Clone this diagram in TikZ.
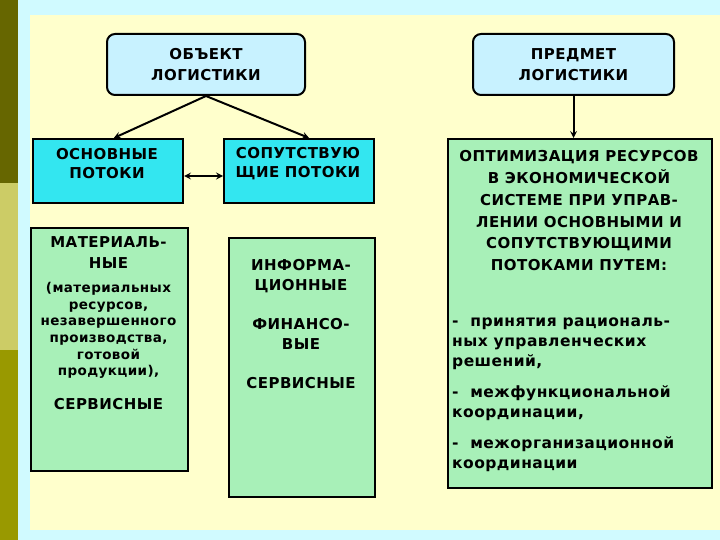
\documentclass[tikz,border=0pt]{standalone}
\usepackage{fontspec}
\setmainfont{DejaVu Sans}[LetterSpace=3]
\usetikzlibrary{positioning}

\definecolor{paleCyan}{RGB}{208,250,255}
\definecolor{panelYellow}{RGB}{255,255,204}
\definecolor{headBlue}{RGB}{200,242,255}
\definecolor{flowCyan}{RGB}{51,230,240}
\definecolor{noteGreen}{RGB}{168,240,184}
\definecolor{darkOlive}{RGB}{102,102,0}
\definecolor{midOlive}{RGB}{204,204,102}
\definecolor{lowOlive}{RGB}{153,153,0}

\begin{document}
\begin{tikzpicture}[x=1pt, y=-1pt,
    headbox/.style ={draw, line width=2pt, rounded corners=8pt, fill=headBlue, anchor=north west,
                     minimum height=61pt, align=center, font=\bfseries\fontsize{15}{20.5}\selectfont},
    flowbox/.style ={draw, line width=2pt, fill=flowCyan, anchor=north west, minimum width=150pt, minimum height=64pt},
    notebox/.style ={draw, line width=2pt, fill=noteGreen, anchor=north west},
    caption/.style ={anchor=north, inner sep=0pt, align=center, font=\bfseries\fontsize{15}{20.5}\selectfont},
    small/.style   ={anchor=north, inner sep=0pt, align=center, font=\bfseries\fontsize{13.5}{16.7}\selectfont},
    link/.style    ={line width=2pt, -stealth}]
   % background and side strip
   \useasboundingbox (0,0) rectangle (720,540);
   \fill[paleCyan] (0,0) rectangle (720,540);
   \fill[panelYellow] (30,15) rectangle (720,530);
   \fill[darkOlive] (0,0) rectangle (18,183);
   \fill[midOlive] (0,183) rectangle (18,350);
   \fill[lowOlive] (0,350) rectangle (18,540);

   % top boxes
   \node[headbox, minimum width=198pt] (obj) at (106,33) {ОБЪЕКТ\\ЛОГИСТИКИ};
   \node[headbox, minimum width=201pt] (pred) at (472,33) {ПРЕДМЕТ\\ЛОГИСТИКИ};

   % flows
   \node[flowbox] (main) at (32,138) {};
   \node[flowbox] (aux) at (223,138) {};
   \node[caption, font=\bfseries\fontsize{15}{19}\selectfont] (mainText) at (107,148) {ОСНОВНЫЕ\\ПОТОКИ};
   \node[caption, font=\bfseries\fontsize{15}{19.5}\selectfont] (auxText) at (298,147) {СОПУТСТВУЮ\\ЩИЕ ПОТОКИ};

   % kinds of flows
   \node[notebox, minimum width=157pt, minimum height=243pt] (mat) at (30,227) {};
   \node[caption] (matHead) at (108.5,236.5) {МАТЕРИАЛЬ-\\НЫЕ};
   \node[small] (matNote) at (108.5,282) {(материальных\\ресурсов,\\незавершенного\\производства,\\готовой\\продукции),};
   \node[caption] (matServ) at (108.5,398) {СЕРВИСНЫЕ};

   \node[notebox, minimum width=146pt, minimum height=259pt] (inf) at (228,237) {};
   \node[caption] (infText) at (301,259) {ИНФОРМА-\\ЦИОННЫЕ\\[18pt]ФИНАНСО-\\ВЫЕ\\[18pt]СЕРВИСНЫЕ};

   % subject
   \node[notebox, minimum width=264pt, minimum height=349pt] (opt) at (447,138) {};
   \node[caption, font=\bfseries\fontsize{15}{21.9}\selectfont] (optText) at (579,150)
     {ОПТИМИЗАЦИЯ РЕСУРСОВ\\В ЭКОНОМИЧЕСКОЙ\\СИСТЕМЕ ПРИ УПРАВ-\\ЛЕНИИ ОСНОВНЫМИ И\\СОПУТСТВУЮЩИМИ\\ПОТОКАМИ ПУТЕМ:};
   \node[caption, anchor=north west, align=left, font=\bfseries\fontsize{15.5}{20}\selectfont] (optList) at (452,318)
     {- \ принятия рациональ-\\ных управленческих\\решений,\\[11pt]- \ межфункциональной\\координации,\\[11pt]- \ межорганизационной\\координации};

   % connectors
   \draw[link] (obj.south) to (main.80);
   \draw[link] (obj.south) to (aux.73);
   \draw[line width=2pt, stealth-stealth] ([yshift=-5pt]main.east) to ([yshift=-5pt]aux.west);
   \draw[link] (pred.south) to (pred.south |- opt.north);
 \end{tikzpicture}
\end{document}
